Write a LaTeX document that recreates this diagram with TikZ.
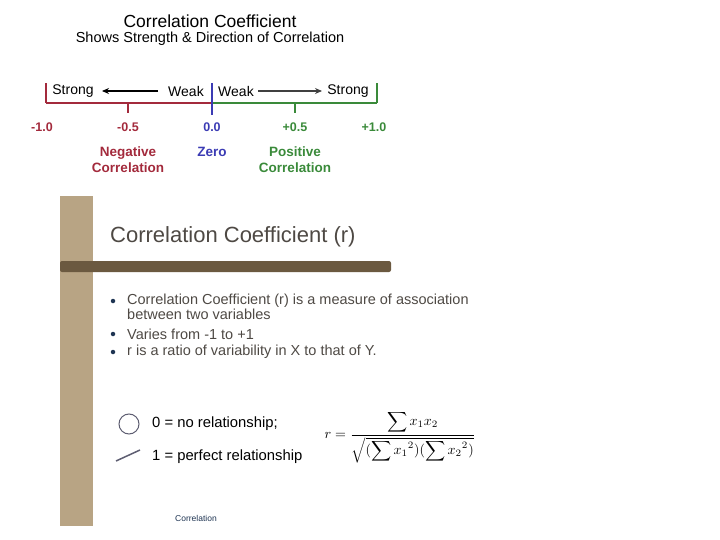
\documentclass[tikz,border=0pt]{standalone}
\usepackage{fontspec}
\setmainfont{Liberation Sans}
\usetikzlibrary{arrows.meta, positioning}
\definecolor{NegRed}{HTML}{A32A3C}
\definecolor{PosGreen}{HTML}{3A8A3A}
\definecolor{ZeroBlue}{HTML}{3B3BB4}
\definecolor{TanBar}{HTML}{B8A484}
\definecolor{BrownBar}{HTML}{6B5940}
\definecolor{SlideText}{HTML}{4E4944}
\definecolor{BulletNavy}{HTML}{1E3452}
\definecolor{IconGray}{HTML}{5E5E72}

\begin{document}
\begin{tikzpicture}[
        x=1pt, y=-1pt,
        head/.style={inner sep=0pt, font=\fontsize{17.5}{20}\selectfont},
        subhead/.style={inner sep=0pt, font=\fontsize{14.5}{17}\selectfont},
        word/.style={inner sep=0pt, font=\fontsize{14}{16}\selectfont},
        num/.style={inner sep=0pt, font=\fontsize{12.5}{14}\selectfont\bfseries},
        kind/.style={inner sep=0pt, align=center,
          font=\fontsize{13.5}{16}\selectfont\bfseries},
        slidetitle/.style={inner sep=0pt, anchor=west, text=SlideText,
          font=\fontsize{22}{26}\selectfont},
        bullettext/.style={inner sep=0pt, anchor=west, align=left,
          text=SlideText, font=\fontsize{14.5}{15}\selectfont},
        dot/.style={circle, fill=BulletNavy, inner sep=0pt,
          minimum size=4.5pt},
        legend/.style={inner sep=0pt, anchor=west,
          font=\fontsize{14.8}{17}\selectfont},
        arr/.style={-{Stealth[length=7pt, width=6pt]}, line width=1.6pt}
      ]
      \useasboundingbox (0,0) rectangle (720,540);

      % top graphic
      \node[head]    (title)    at (210,21)  {Correlation Coefficient};
      \node[subhead] (subtitle) at (210,39)  {Shows Strength \& Direction of Correlation};

      \coordinate (left)  at (46,103);
      \coordinate (mid)   at (212,103);
      \coordinate (right) at (377,103);
      \draw[NegRed, line width=1.5pt] (left) -- (mid) (left) -- ++(0,-20)
            (128,103) -- (128,113);
      \draw[PosGreen, line width=1.5pt] (mid) -- (right) (right) -- ++(0,-20)
            (295,103) -- (295,113);
      \draw[ZeroBlue, line width=1.5pt] (212,83) -- (212,115);

      \node[word] (strongL) at (73,91)  {Strong};
      \node[word] (weakL)   at (186,91) {Weak};
      \node[word] (weakR)   at (236,91) {Weak};
      \node[word] (strongR) at (348,91) {Strong};
      \draw[arr, black]       (weakL.west)  ++(-10,0) coordinate (aL) (aL) -- (strongL.east -| 102,0);
      \draw[arr, black!75]    (weakR.east)  ++(4,0) coordinate (aR) (aR) -- (strongR.west -| 322,0);

      \node[num, text=NegRed]   (m1)  at (42,127)  {-1.0};
      \node[num, text=NegRed]   (m05) at (128,127) {-0.5};
      \node[num, text=ZeroBlue] (z0)  at (212,127) {0.0};
      \node[num, text=PosGreen] (p05) at (295,127) {+0.5};
      \node[num, text=PosGreen] (p1)  at (374,127) {+1.0};

      \node[kind, text=NegRed]   (neg)  at (m05 |- 0,160) {Negative\\Correlation};
      \node[kind, text=ZeroBlue] (zero) at (z0 |- 0,152)  {Zero};
      \node[kind, text=PosGreen] (pos)  at (p05 |- 0,160) {Positive\\Correlation};

      % slide
      \fill[TanBar] (60,196) rectangle (93,526);
      \fill[BrownBar, rounded corners=2pt] (60,261) rectangle (391,272);
      \node[slidetitle] (stitle) at (110,237) {Correlation Coefficient (r)};

      \node[dot] (b1) at (113,301) {};
      \node[dot] (b2) at (113,334) {};
      \node[dot] (b3) at (113,352) {};
      \node[bullettext, anchor=north west] (t1) at (127,294)
            {Correlation Coefficient (r) is a measure of association\\between two variables};
      \node[bullettext] (t2) at (127,334) {Varies from -1 to +1};
      \node[bullettext] (t3) at (127,352) {r is a ratio of variability in X to that of Y.};

      \node[circle, draw=IconGray, line width=1pt, minimum size=20pt,
            inner sep=0pt] (ring) at (129,424) {};
      \coordinate (lineA) at (116,461);
      \coordinate (lineB) at (140,450);
      \draw[IconGray, line width=1.5pt] (lineA) -- (lineB);
      \node[legend] (none) at (152,424) {0 = no relationship;};
      \node[legend] (perf) at (152,457) {1 = perfect relationship};

      \node[inner sep=0pt] (formula) at (400,437)
            {\scalebox{1.4}{$\displaystyle r=\frac{\displaystyle\sum x_1x_2}{\sqrt{(\displaystyle\sum {x_1}^2)(\displaystyle\sum {x_2}^2)}}$}};

      \node[inner sep=0pt, text=BulletNavy, font=\fontsize{8.5}{10}\selectfont]
            (foot) at (196,518) {Correlation};
    \end{tikzpicture}
\end{document}
